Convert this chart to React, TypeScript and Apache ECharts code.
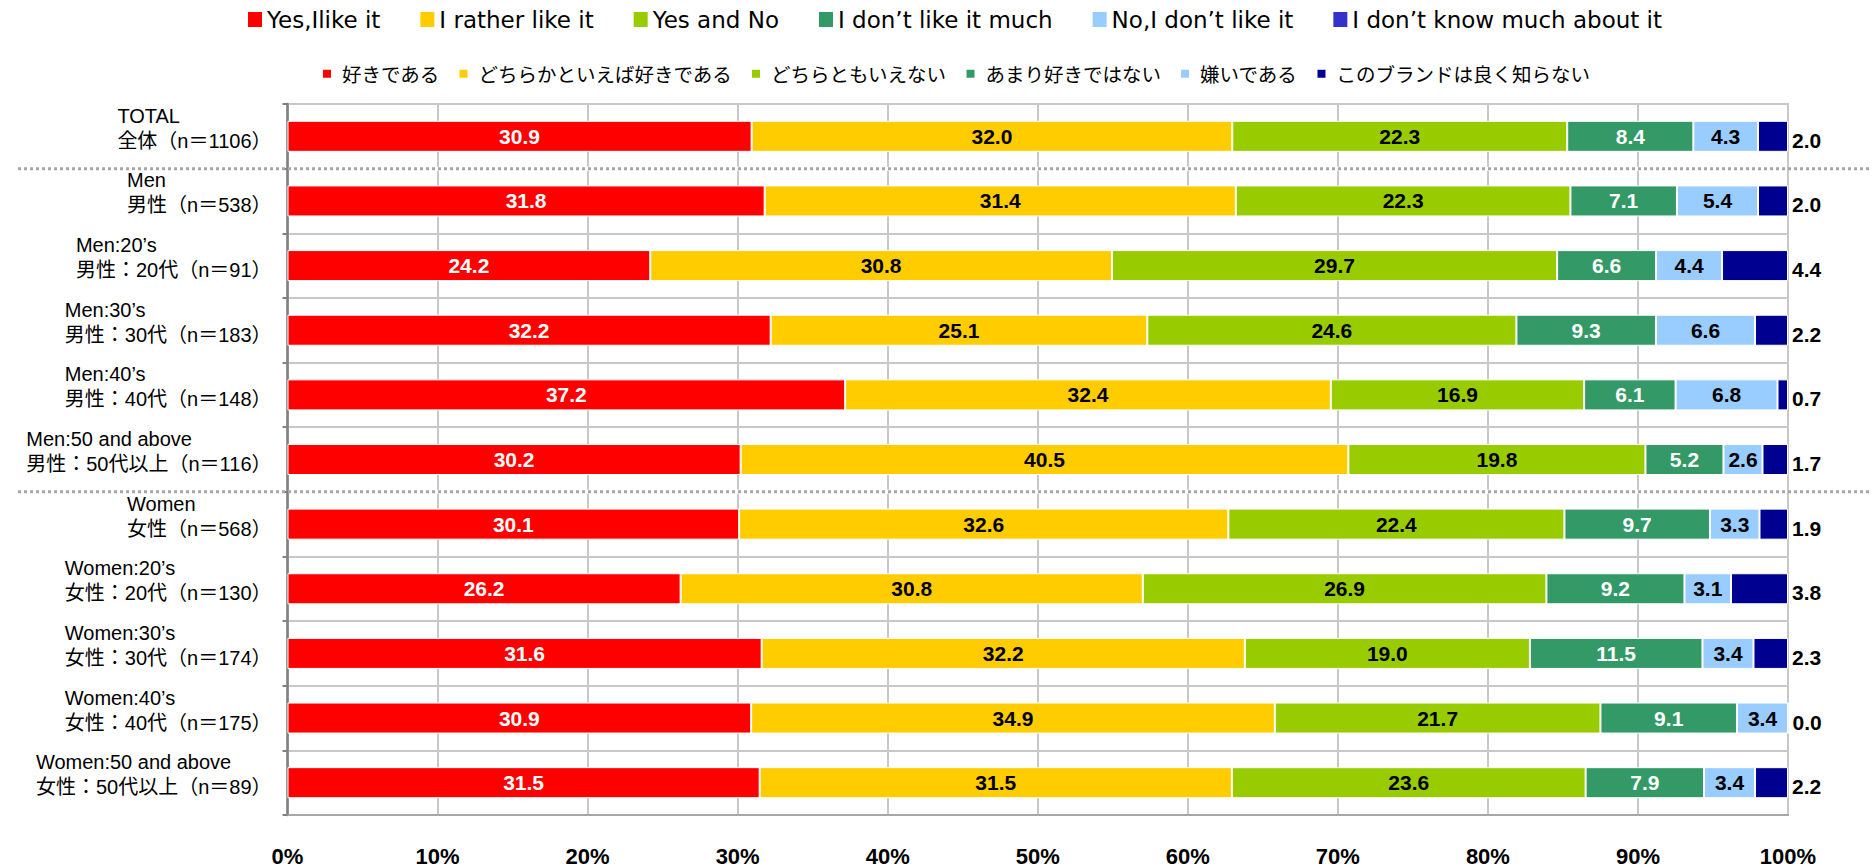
import React, { useEffect, useRef } from 'react';
import * as echarts from 'echarts';

// ---- data ----
const groupsEn = [
  'TOTAL',
  'Men',
  'Men:20’s',
  'Men:30’s',
  'Men:40’s',
  'Men:50 and above',
  'Women',
  'Women:20’s',
  'Women:30’s',
  'Women:40’s',
  'Women:50 and above',
];
const groupsJp = [
  '全体（n＝1106）',
  '男性（n＝538）',
  '男性：20代（n＝91）',
  '男性：30代（n＝183）',
  '男性：40代（n＝148）',
  '男性：50代以上（n＝116）',
  '女性（n＝568）',
  '女性：20代（n＝130）',
  '女性：30代（n＝174）',
  '女性：40代（n＝175）',
  '女性：50代以上（n＝89）',
];
const seriesJp = [
  '好きである',
  'どちらかといえば好きである',
  'どちらともいえない',
  'あまり好きではない',
  '嫌いである',
  'このブランドは良く知らない',
];
const seriesEn = [
  'Yes,Ilike it',
  'I rather like it',
  'Yes and No',
  'I don’t like it much',
  'No,I don’t like it',
  'I don’t know much about it',
];
const like = [30.9, 31.8, 24.2, 32.2, 37.2, 30.2, 30.1, 26.2, 31.6, 30.9, 31.5];
const ratherLike = [32.0, 31.4, 30.8, 25.1, 32.4, 40.5, 32.6, 30.8, 32.2, 34.9, 31.5];
const neither = [22.3, 22.3, 29.7, 24.6, 16.9, 19.8, 22.4, 26.9, 19.0, 21.7, 23.6];
const notMuch = [8.4, 7.1, 6.6, 9.3, 6.1, 5.2, 9.7, 9.2, 11.5, 9.1, 7.9];
const dislike = [4.3, 5.4, 4.4, 6.6, 6.8, 2.6, 3.3, 3.1, 3.4, 3.4, 3.4];
const unknown = [2.0, 2.0, 4.4, 2.2, 0.7, 1.7, 1.9, 3.8, 2.3, 0.0, 2.2];
const xTicks = [0, 10, 20, 30, 40, 50, 60, 70, 80, 90, 100];

const rawSeries = [like, ratherLike, neither, notMuch, dislike, unknown];

// ---- styles ----
const colors = ['#FF0000', '#FFCC00', '#99CC00', '#339966', '#99CCFF', '#000090'];
const enLegendColors = ['#FF0000', '#FFCC00', '#99CC00', '#339966', '#99CCFF', '#3333CC'];
const labelColors = ['#ffffff', '#000000', '#000000', '#ffffff', '#000000', '#000000'];
const LATIN = '"Liberation Sans", Arial, "Noto Sans CJK JP", sans-serif';
const CJK = '"Liberation Sans", Arial, "Noto Sans CJK JP", sans-serif';

export default function App() {
  const ref = useRef<HTMLDivElement>(null);

  useEffect(() => {
    document.body.style.margin = '0';
    if (!ref.current) return;
    const chart = echarts.init(ref.current, undefined, { renderer: 'svg' });

    const totals = groupsJp.map((_, i) =>
      rawSeries.reduce((s, arr) => s + arr[i], 0)
    );

    const mainSeries = seriesJp.map((name, si) => ({
      name,
      type: 'bar',
      stack: 'all',
      barWidth: '48%',
      itemStyle: { color: colors[si], borderColor: '#ffffff', borderWidth: 1 },
      label: {
        show: true,
        position: si === 5 ? 'right' : 'inside',
        distance: 4,
        offset: si === 5 ? [0, 4] : [0, 0],
        color: labelColors[si],
        fontFamily: LATIN,
        fontWeight: 'bold',
        fontSize: 21,
        formatter: (p: any) => rawSeries[si][p.dataIndex].toFixed(1),
      },
      emphasis: { disabled: true },
      data: rawSeries[si].map((v, i) => (v / totals[i]) * 100),
    }));

    const dummySeries = seriesEn.map((name, si) => ({
      name,
      type: 'bar',
      stack: 'all',
      barWidth: '48%',
      itemStyle: { color: enLegendColors[si] },
      data: [] as number[],
    }));

    chart.setOption({
      animation: false,
      backgroundColor: '#ffffff',
      legend: [
        {
          data: seriesEn,
          left: 248,
          top: 8,
          padding: 0,
          itemGap: 40,
          itemWidth: 14,
          itemHeight: 15,
          icon: 'rect',
          selectedMode: false,
          textStyle: { fontFamily: '"DejaVu Sans", sans-serif', fontSize: 23, color: '#000' },
        },
        {
          data: seriesJp,
          left: 321,
          top: 64,
          padding: 0,
          itemGap: 18,
          itemWidth: 10,
          itemHeight: 10,
          icon: 'rect',
          selectedMode: false,
          textStyle: {
            fontFamily: '"Noto Sans CJK JP", sans-serif',
            fontSize: 19.5,
            color: '#000',
            padding: [0, 0, 0, 5],
          },
        },
      ],
      grid: {
        left: 287.5,
        right: 84,
        top: 104,
        bottom: 50,
        show: true,
        borderColor: '#c0c0c0',
        borderWidth: 2,
        backgroundColor: 'transparent',
      },
      xAxis: {
        type: 'value',
        min: xTicks[0],
        max: xTicks[xTicks.length - 1],
        interval: 10,
        axisLine: { show: true, lineStyle: { color: '#a6a6a6', width: 2 } },
        axisTick: { show: false },
        splitLine: { show: true, lineStyle: { color: '#c8c8c8', width: 2 } },
        axisLabel: {
          margin: 30,
          formatter: '{value}%',
          fontFamily: LATIN,
          fontWeight: 'bold',
          fontSize: 22,
          color: '#000',
        },
      },
      yAxis: {
        type: 'category',
        inverse: true,
        data: groupsJp,
        axisLine: { show: true, lineStyle: { color: '#808080', width: 2.5 } },
        axisTick: { show: true, length: 5, lineStyle: { color: '#808080', width: 2 } },
        splitLine: { show: true, lineStyle: { color: '#c8c8c8', width: 2 } },
        axisLabel: {
          margin: 16,
          padding: [0, 0, 16, 0],
          formatter: (_v: string, idx: number) => `{en|${groupsEn[idx]}}\n{jp|${groupsJp[idx]}}`,
          rich: {
            en: { fontFamily: CJK, fontSize: 20, lineHeight: 25, color: '#000', align: 'left' },
            jp: { fontFamily: CJK, fontSize: 20, lineHeight: 25, color: '#000', align: 'left' },
          },
        },
      },
      series: [...mainSeries, ...dummySeries],
    });

    // dotted separators between group blocks, positioned through the category scale
    const mid = (a: number, b: number) => {
      const ya = chart.convertToPixel({ yAxisIndex: 0 }, a) as number;
      const yb = chart.convertToPixel({ yAxisIndex: 0 }, b) as number;
      return (ya + yb) / 2;
    };
    const seps = [mid(0, 1), mid(5, 6)];
    const graphic: any[] = [];
    seps.forEach((y) => {
      graphic.push({
        type: 'line',
        z: 50,
        shape: { x1: 287.5 + 2, y1: y, x2: 1788 - 1, y2: y },
        style: { stroke: '#ffffff', lineWidth: 4 },
      });
      graphic.push({
        type: 'line',
        z: 51,
        shape: { x1: 18, y1: y, x2: 1872, y2: y },
        style: { stroke: '#a6a6a6', lineWidth: 3, lineDash: [3, 3] },
      });
    });
    chart.setOption({ graphic });

    return () => chart.dispose();
  }, []);

  return <div ref={ref} style={{ width: 1872, height: 867 }} />;
}
